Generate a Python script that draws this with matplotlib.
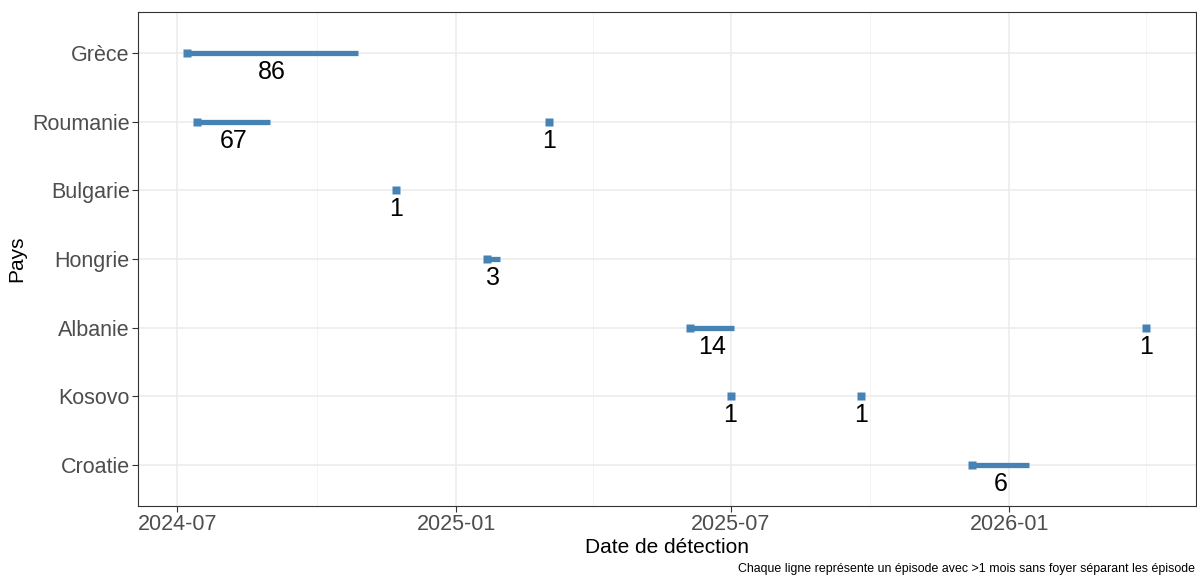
import matplotlib
matplotlib.use("Agg")
import matplotlib.pyplot as plt
import pandas as pd

plt.rcParams['font.family'] = ['Liberation Sans', 'DejaVu Sans']

countries = ["Grèce", "Roumanie", "Bulgarie", "Hongrie", "Albanie", "Kosovo", "Croatie"]
ep_country = ["Grèce", "Roumanie", "Roumanie", "Bulgarie", "Hongrie", "Albanie", "Albanie", "Kosovo", "Kosovo", "Croatie"]
ep_start = ["2024-07-07", "2024-07-14", "2025-03-03", "2024-11-22", "2025-01-21", "2025-06-04", "2026-04-01", "2025-07-01", "2025-09-25", "2025-12-07"]
ep_end = ["2024-10-28", "2024-08-31", "2025-03-03", "2024-11-22", "2025-01-30", "2025-07-03", "2026-04-01", "2025-07-01", "2025-09-25", "2026-01-14"]
ep_count = [86, 67, 1, 1, 3, 14, 1, 1, 1, 6]

tick_dates = ["2024-07-01", "2025-01-01", "2025-07-01", "2026-01-01"]
minor_dates = ["2024-10-01", "2025-04-01", "2025-10-01", "2026-04-01"]
tick_labels = ["2024-07", "2025-01", "2025-07", "2026-01"]

color = "#4682B4"
fig = plt.figure(figsize=(11.97, 5.77), dpi=100)
ax = fig.add_axes([0.1153, 0.123, 0.8837, 0.856])

ypos = {c: len(countries) - 1 - i for i, c in enumerate(countries)}
starts = pd.to_datetime(ep_start)
ends = pd.to_datetime(ep_end)

for c, s, e, n in zip(ep_country, starts, ends, ep_count):
    y = ypos[c]
    ax.plot([s, e], [y, y], color=color, lw=3.8, solid_capstyle='butt', zorder=3)
    ax.plot([s], [y], marker='s', ms=5.8, color=color, mec='none', zorder=4)
    mid = s + (e - s) / 2
    ax.text(mid, y - 0.1, str(n), ha='center', va='top', fontsize=18, color='black', zorder=5)

ax.set_xlim(pd.Timestamp("2024-06-05"), pd.Timestamp("2026-05-04"))
ax.set_ylim(-0.6, len(countries) - 0.4)
ax.set_yticks(range(len(countries)))
ax.set_yticklabels(countries[::-1])
ax.set_xticks(pd.to_datetime(tick_dates))
ax.set_xticklabels(tick_labels)
ax.set_xticks(pd.to_datetime(minor_dates), minor=True)

ax.grid(True, which='major', color='#EBEBEB', lw=1.1, zorder=0)
ax.grid(True, which='minor', axis='x', color='#F3F3F3', lw=0.6, zorder=0)
ax.set_axisbelow(True)
ax.tick_params(axis='both', which='major', labelsize=15.5, labelcolor='#4D4D4D', color='#333333', length=4, width=0.8, pad=2)
ax.tick_params(axis='x', which='minor', length=0)
for sp in ax.spines.values():
    sp.set_color('#333333')
    sp.set_linewidth(0.8)

ax.set_xlabel("Date de détection", fontsize=15, color='black', labelpad=2)
ax.set_ylabel("Pays", fontsize=15, color='black', labelpad=4)
fig.text(0.9985, 0.003, "Chaque ligne représente un épisode avec >1 mois sans foyer séparant les épisode",
         ha='right', va='bottom', fontsize=8.9, color='black')

fig.savefig("out.png", dpi=100)
